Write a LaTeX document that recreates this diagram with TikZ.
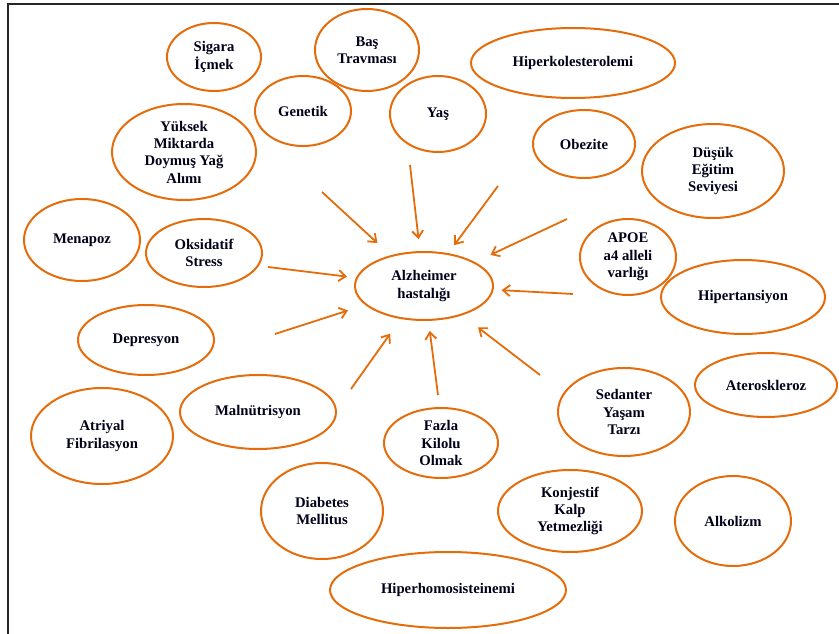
\documentclass[tikz,border=0pt]{standalone}
\usepackage{fontspec}
\setmainfont{Liberation Serif}
\usetikzlibrary{shapes.geometric,arrows.meta}
\definecolor{risk}{RGB}{228,108,10}

\begin{document}
\begin{tikzpicture}[x=1pt, y=-1pt,
factor/.style={ellipse, draw=risk, line width=2pt, inner sep=0pt, align=center,
font=\bfseries\fontsize{14.7}{17.3}\selectfont, text=black!90!blue},
link/.style={color=risk, line width=1.8pt, -{Straight Barb[length=7pt,width=11pt,line width=1.8pt]}}]
\useasboundingbox (0,0) rectangle (839,634);
\draw [line width=1.6pt, black!85] (839,4) -- (8,4) -- (8,634);

\node [factor, minimum width=94pt, minimum height=68pt] (sigara) at (214,57) {Sigara\\İçmek};
\node [factor, minimum width=104pt, minimum height=82pt] (bas) at (367,50) {Baş\\Travması};
\node [factor, minimum width=96pt, minimum height=70pt] (genetik) at (303,111) {Genetik};
\node [factor, minimum width=144pt, minimum height=96pt] (yuksek) at (184,152) {Yüksek\\Miktarda\\Doymuş Yağ\\Alımı};
\node [factor, minimum width=116pt, minimum height=82pt] (menapoz) at (82,240) {Menapoz};
\node [factor, minimum width=116pt, minimum height=68pt] (oksidatif) at (204,253) {Oksidatif\\Stress};
\node [factor, minimum width=96pt, minimum height=76pt] (yas) at (438,114) {Yaş};
\node [factor, minimum width=138pt, minimum height=68pt] (alz) at (424,286) {Alzheimer\\hastalığı};
\node [factor, minimum width=204pt, minimum height=70pt] (hiperkol) at (573,63) {Hiperkolesterolemi};
\node [factor, minimum width=102pt, minimum height=68pt] (obezite) at (584,144) {Obezite};
\node [factor, minimum width=142pt, minimum height=94pt] (dusuk) at (713,171) {Düşük\\Eğitim\\Seviyesi};
\node [factor, minimum width=96pt, minimum height=76pt] (apoe) at (628,257) {APOE\\a4 alleli\\varlığı};
\node [factor, minimum width=164pt, minimum height=74pt] (hipertan) at (743,297) {Hipertansiyon};
\node [factor, minimum width=136pt, minimum height=70pt] (depresyon) at (146,340) {Depresyon};
\node [factor, minimum width=142pt, minimum height=96pt] (atriyal) at (102,436) {Atriyal\\Fibrilasyon};
\node [factor, minimum width=156pt, minimum height=74pt] (malnut) at (258,412) {Malnütrisyon};
\node [factor, minimum width=122pt, minimum height=96pt] (diabetes) at (322,511) {Diabetes\\Mellitus};
\node [factor, minimum width=236pt, minimum height=76pt] (hiperhom) at (448,590) {Hiperhomosisteinemi};
\node [factor, minimum width=114pt, minimum height=70pt] (fazla) at (441,443) {Fazla\\Kilolu\\Olmak};
\node [factor, minimum width=132pt, minimum height=88pt] (sedanter) at (624,412) {Sedanter\\Yaşam\\Tarzı};
\node [factor, minimum width=142pt, minimum height=64pt] (ateros) at (766,385) {Ateroskleroz};
\node [factor, minimum width=144pt, minimum height=82pt] (konjestif) at (570,511) {Konjestif\\Kalp\\Yetmezliği};
\node [factor, minimum width=116pt, minimum height=90pt] (alkolizm) at (733,521) {Alkolizm};

% free ends of the arrows
\coordinate (a_1) at (322,192);
\coordinate (a_2) at (410,165);
\coordinate (a_3) at (498,186);
\coordinate (a_4) at (567,219);
\coordinate (a_5) at (573,294);
\coordinate (a_6) at (268,267);
\coordinate (a_7) at (275,334);
\coordinate (a_8) at (351,389);
\coordinate (a_9) at (438,395);
\coordinate (a_10) at (540,375);

\path [link]
(a_1) edge [shorten >=18pt] (alz)
(a_2) edge [shorten >=12pt] (alz)
(a_3) edge [shorten >=10pt] (alz)
(a_4) edge [shorten >=17pt] (alz)
(a_5) edge [shorten >=8pt] (alz)
(a_6) edge [shorten >=9pt] (alz)
(a_7) edge [shorten >=18pt] (alz)
(a_8) edge [shorten >=18pt] (alz)
(a_9) edge [shorten >=10pt] (alz)
(a_10) edge [shorten >=20pt] (alz);

\end{tikzpicture}
\end{document}
